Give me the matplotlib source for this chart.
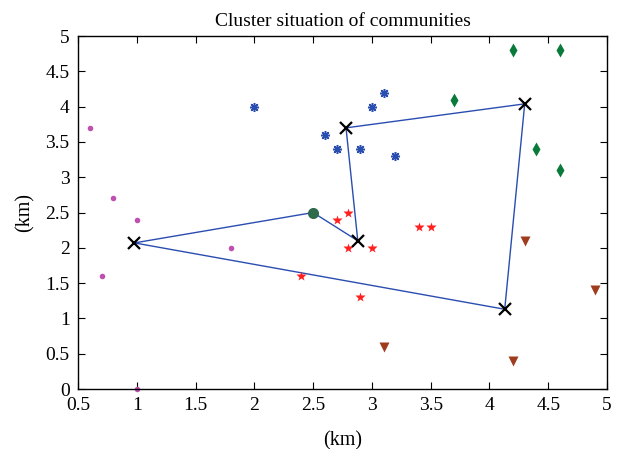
import numpy as np
import matplotlib.pyplot as plt

plt.rcParams['font.family'] = ['Liberation Serif', 'DejaVu Serif']

# community members
mag_x = [0.6, 0.8, 1.0, 0.7, 1.8, 1.0]
mag_y = [3.7, 2.7, 2.4, 1.6, 2.0, 0.0]

blue_x = [2.0, 3.1, 3.0, 2.6, 2.7, 2.9, 3.2]
blue_y = [4.0, 4.2, 4.0, 3.6, 3.4, 3.4, 3.3]

green_x = [4.2, 4.6, 3.7, 4.4, 4.6]
green_y = [4.8, 4.8, 4.1, 3.4, 3.1]

red_x = [2.8, 2.7, 3.4, 3.5, 2.8, 3.0, 2.4, 2.9]
red_y = [2.5, 2.4, 2.3, 2.3, 2.0, 2.0, 1.6, 1.3]

brown_x = [4.3, 4.9, 3.1, 4.2]
brown_y = [2.1, 1.4, 0.6, 0.4]

# center node and cluster heads
hub_x, hub_y = 2.5, 2.5
head_x = [0.98, 2.88, 2.78, 4.30, 4.13]
head_y = [2.07, 2.10, 3.70, 4.04, 1.13]

fig = plt.figure(figsize=(6.27, 4.49), dpi=100)
ax = fig.add_axes([0.1244, 0.1336, 0.8437, 0.786])

# route: head0 -> hub -> head1 -> head2 -> head3 -> head4 -> head0
path_x = [head_x[0], hub_x, head_x[1], head_x[2], head_x[3], head_x[4], head_x[0]]
path_y = [head_y[0], hub_y, head_y[1], head_y[2], head_y[3], head_y[4], head_y[0]]
ax.plot(path_x, path_y, color='#2a4db0', lw=1.0, zorder=1)

ax.plot(mag_x, mag_y, 'o', color='#c050b0', ms=4, mec='none', zorder=2, clip_on=False)
ax.plot(blue_x, blue_y, ls='none', marker=(8, 2, 0), color='#2a4db0', ms=6.5, mew=1.1, zorder=2)
ax.plot(green_x, green_y, 'd', color='#0a7a3a', ms=7, mec='none', zorder=2)
ax.plot(red_x, red_y, '*', color='#ff2020', ms=7.5, mec='none', zorder=2)
ax.plot(brown_x, brown_y, 'v', color='#a03c1e', ms=7, mec='none', zorder=2)
ax.plot(hub_x, hub_y, 'o', color='#2e6b4d', ms=8, mec='none', zorder=3)
ax.plot(head_x, head_y, 'x', color='black', ms=9, mew=1.6, zorder=4)

ax.set_xlim(0.5, 5)
ax.set_ylim(0, 5)
ax.set_xticks(np.arange(0.5, 5.01, 0.5))
ax.set_yticks(np.arange(0, 5.01, 0.5))
ax.set_xticklabels(['0.5', '1', '1.5', '2', '2.5', '3', '3.5', '4', '4.5', '5'])
ax.set_yticklabels(['0', '0.5', '1', '1.5', '2', '2.5', '3', '3.5', '4', '4.5', '5'])
ax.tick_params(direction='in', top=True, right=True, labelsize=14, length=5, pad=6)
for s in ax.spines.values():
    s.set_linewidth(1.0)

ax.set_title('Cluster situation of communities', fontsize=14, pad=7)
ax.set_xlabel('(km)', fontsize=14.5, labelpad=12)
ax.set_ylabel('(km)', fontsize=14.5, labelpad=8)

fig.savefig('out.png', dpi=100)
